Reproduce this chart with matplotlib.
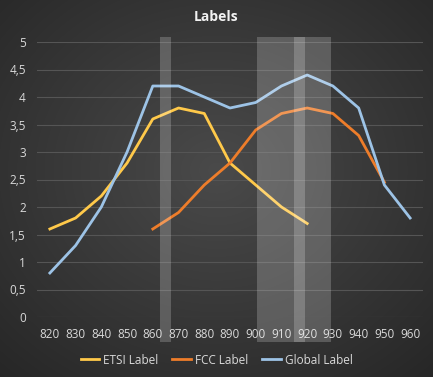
import numpy as np
import matplotlib
matplotlib.use("Agg")
import matplotlib.pyplot as plt

freqs = [820, 830, 840, 850, 860, 870, 880, 890, 900, 910, 920, 930, 940, 950, 960]
etsi = [1.6, 1.8, 2.2, 2.8, 3.6, 3.8, 3.7, 2.8, 2.4, 2.0, 1.7, None, None, None, None]
fcc = [None, None, None, None, 1.6, 1.9, 2.4, 2.8, 3.4, 3.7, 3.8, 3.7, 3.3, 2.45, None]
glob = [0.8, 1.3, 2.0, 3.0, 4.2, 4.2, 4.0, 3.8, 3.9, 4.2, 4.4, 4.2, 3.8, 2.4, 1.8]
# frequency bands shown as grey overlays (MHz)
bands = [(862.8, 867), (900.5, 929.2), (915, 919.2)]

W, H = 433, 377
fig = plt.figure(figsize=(W / 100, H / 100), dpi=100)

# radial dark background
bg = fig.add_axes([0, 0, 1, 1])
yy, xx = np.mgrid[0:H, 0:W]
r = np.sqrt(((xx - W * 0.5) / (W * 0.75)) ** 2 + ((yy - H * 0.45) / (H * 0.75)) ** 2)
r = np.clip(r, 0, 1)
img = (0.29 - 0.14 * r)
bg.imshow(np.dstack([img, img, img]), aspect="auto", extent=[0, 1, 0, 1])
bg.axis("off")

ax = fig.add_axes([37 / W, 1 - 317 / H, 386 / W, 275 / H])
ax.patch.set_alpha(0)
x = np.arange(len(freqs))

def to_y(v):
    return [np.nan if a is None else a for a in v]

ax.plot(x, to_y(etsi), color="#FFC94A", lw=2, label="ETSI Label", zorder=3)
ax.plot(x, to_y(fcc), color="#EE7D2A", lw=2, label="FCC Label", zorder=3)
ax.plot(x, to_y(glob), color="#9DC3E6", lw=2, label="Global Label", zorder=3)

# overlay bands, extending a bit beyond the plot area
for f0, f1 in bands:
    x0 = (f0 - freqs[0]) / 10
    x1 = (f1 - freqs[0]) / 10
    ax.add_patch(plt.Rectangle((x0, -0.45), x1 - x0, 5.55, facecolor="white",
                               alpha=0.2, edgecolor="none", clip_on=False, zorder=4))

ax.set_xlim(-0.5, len(freqs) - 0.5)
ax.set_ylim(0, 5)
ax.set_yticks(np.arange(0, 5.01, 0.5))
ax.set_yticklabels([f"{v:g}".replace(".", ",") for v in np.arange(0, 5.01, 0.5)])
ax.set_xticks(x)
ax.set_xticklabels([str(f) for f in freqs])
ax.grid(axis="y", color="#555555", lw=0.8)
ax.set_axisbelow(True)
for s in ax.spines.values():
    s.set_visible(False)
ax.tick_params(length=0, colors="#D9D9D9", labelsize=8.5, pad=8)
for lab in ax.get_xticklabels() + ax.get_yticklabels():
    lab.set_fontfamily("Open Sans")

fig.text(0.5, 1 - 17 / H, "Labels", ha="center", va="center", color="#F2F2F2",
         fontsize=10, fontweight="bold", fontfamily="Open Sans")

leg = fig.legend(loc="center", bbox_to_anchor=(0.5, 1 - 360 / H), ncol=3, frameon=False,
                 handlelength=1.6, columnspacing=1.2, handletextpad=0.3,
                 prop={"family": "Open Sans", "size": 8.5})
for t in leg.get_texts():
    t.set_color("#D9D9D9")

fig.savefig("out.png", dpi=100)
